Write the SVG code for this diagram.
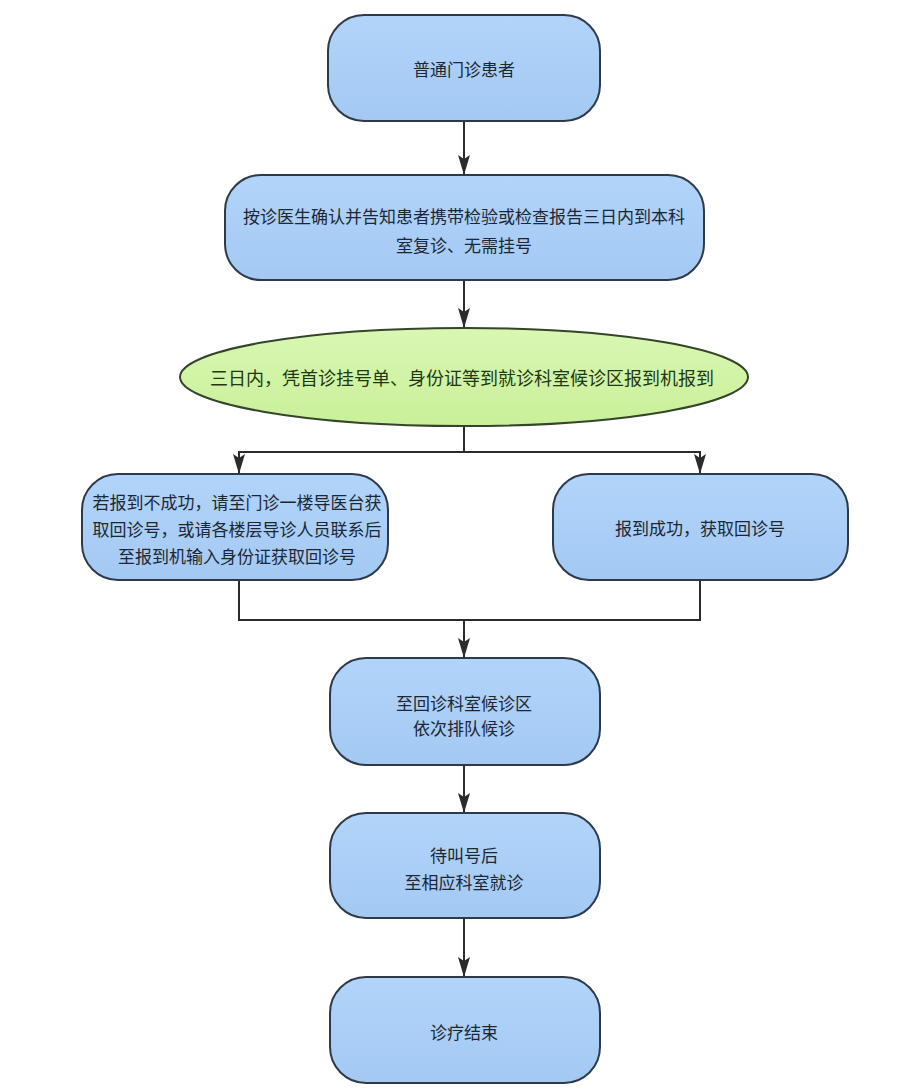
<svg xmlns="http://www.w3.org/2000/svg" width="900" height="1088" viewBox="0 0 900 1088">
<defs>
<linearGradient id="blue" x1="0" y1="0" x2="0" y2="1">
<stop offset="0" stop-color="#b2d4fa"/>
<stop offset="1" stop-color="#a3c9f3"/>
</linearGradient>
<linearGradient id="green" x1="0" y1="0" x2="0" y2="1">
<stop offset="0" stop-color="#d9f7b2"/>
<stop offset="1" stop-color="#c9f09a"/>
</linearGradient>
<marker id="arr" markerUnits="userSpaceOnUse" markerWidth="20" markerHeight="12" viewBox="0 0 20 12" refX="20" refY="6" orient="auto">
<path d="M0,0 L20,6 L0,12 L4,6 Z" fill="#2b2b2b"/>
</marker>
<style>
.box{fill:url(#blue);stroke:#2e3a48;stroke-width:2}
.ell{fill:url(#green);stroke:#34452a;stroke-width:2}
.t{font-family:"Noto Sans CJK SC","Noto Sans",sans-serif;font-size:17px;fill:#1c2733;text-anchor:middle;dominant-baseline:central}
.tg{font-family:"Noto Sans CJK SC","Noto Sans",sans-serif;font-size:18px;fill:#1f3812;text-anchor:middle;dominant-baseline:central}
.c{fill:none;stroke:#2b2b2b;stroke-width:2}
</style>
</defs>
<rect width="900" height="1088" fill="#ffffff"/>
<g id="connectors">
<line class="c" x1="464" y1="121" x2="464" y2="175" marker-end="url(#arr)"/>
<line class="c" x1="464" y1="280" x2="464" y2="328" marker-end="url(#arr)"/>
<polyline class="c" points="464,426 464,452"/>
<polyline class="c" points="239,452 700,452"/>
<line class="c" x1="239" y1="451" x2="239" y2="474" marker-end="url(#arr)"/>
<line class="c" x1="700" y1="451" x2="700" y2="474" marker-end="url(#arr)"/>
<polyline class="c" points="239,580 239,620 700,620 700,580"/>
<line class="c" x1="464" y1="620" x2="464" y2="658" marker-end="url(#arr)"/>
<line class="c" x1="464" y1="765" x2="464" y2="813" marker-end="url(#arr)"/>
<line class="c" x1="464" y1="918" x2="464" y2="977" marker-end="url(#arr)"/>
</g>
<g id="n1">
<rect class="box" x="328" y="15" width="272" height="106" rx="36"/>
<text class="t" x="464" y="68">普通门诊患者</text>
</g>
<g id="n2">
<rect class="box" x="225" y="175" width="479" height="105" rx="36"/>
<text class="t" x="464" y="215">按诊医生确认并告知患者携带检验或检查报告三日内到本科</text>
<text class="t" x="464" y="244">室复诊、无需挂号</text>
</g>
<g id="n3">
<ellipse class="ell" cx="464" cy="377" rx="284" ry="49"/>
<text class="tg" x="462" y="377">三日内，凭首诊挂号单、身份证等到就诊科室候诊区报到机报到</text>
</g>
<g id="n4">
<rect class="box" x="82" y="474" width="306" height="106" rx="36"/>
<text class="t" x="237" y="501">若报到不成功，请至门诊一楼导医台获</text>
<text class="t" x="237" y="528">取回诊号，或请各楼层导诊人员联系后</text>
<text class="t" x="237" y="555">至报到机输入身份证获取回诊号</text>
</g>
<g id="n5">
<rect class="box" x="553" y="474" width="295" height="106" rx="36"/>
<text class="t" x="700" y="527">报到成功，获取回诊号</text>
</g>
<g id="n6">
<rect class="box" x="330" y="658" width="270" height="107" rx="36"/>
<text class="t" x="464" y="702">至回诊科室候诊区</text>
<text class="t" x="464" y="727">依次排队候诊</text>
</g>
<g id="n7">
<rect class="box" x="330" y="813" width="270" height="105" rx="36"/>
<text class="t" x="464" y="854">待叫号后</text>
<text class="t" x="464" y="881">至相应科室就诊</text>
</g>
<g id="n8">
<rect class="box" x="330" y="977" width="270" height="106" rx="36"/>
<text class="t" x="464" y="1031">诊疗结束</text>
</g>
</svg>
